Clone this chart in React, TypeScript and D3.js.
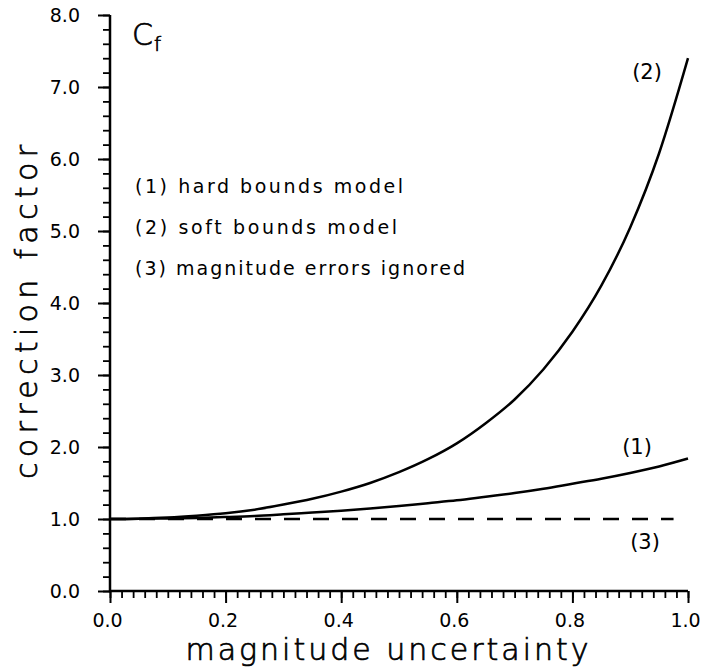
import React, { useEffect, useRef } from 'react';
import * as d3 from 'd3';

const uncertainty = [0, 0.05, 0.1, 0.15, 0.2, 0.25, 0.3, 0.35, 0.4, 0.45, 0.5, 0.55, 0.6, 0.65, 0.7, 0.75, 0.8, 0.85, 0.9, 0.95, 1.0];
// (1) hard bounds model
const hardBounds = [1.0, 1.002, 1.007, 1.015, 1.027, 1.042, 1.065, 1.09, 1.115, 1.145, 1.18, 1.22, 1.26, 1.31, 1.36, 1.42, 1.49, 1.56, 1.64, 1.73, 1.84];
// (2) soft bounds model
const softBounds = [1.0, 1.005, 1.02, 1.046, 1.08, 1.13, 1.2, 1.28, 1.38, 1.5, 1.65, 1.83, 2.05, 2.33, 2.66, 3.08, 3.6, 4.24, 5.05, 6.08, 7.4];
// (3) magnitude errors ignored
const ignoredX = [0, 0.975];
const ignoredY = [1.0, 1.0];

const xTicks = [0, 0.2, 0.4, 0.6, 0.8, 1.0];
const yTicks = [0, 1, 2, 3, 4, 5, 6, 7, 8];
const legendLines = ['(1) hard bounds model', '(2) soft bounds model', '(3) magnitude errors ignored'];

const FONT = '"DejaVu Sans", sans-serif';

export default function App() {
  const ref = useRef<SVGSVGElement>(null);

  useEffect(() => {
    const svg = d3.select(ref.current);
    svg.selectAll('*').remove();

    const x = d3.scaleLinear().domain([0, 1]).range([110, 688]);
    const y = d3.scaleLinear().domain([0, 8]).range([591, 15]);

    const xMinor = d3.range(0, 51).map(i => i / 50);
    const yMinor = d3.range(0, 41).map(i => i / 5);

    // minor ticks
    svg.append('g')
      .attr('transform', `translate(0,${y(0)})`)
      .call(d3.axisBottom(x).tickValues(xMinor).tickSize(7).tickFormat(() => ''))
      .call(g => g.select('.domain').remove())
      .selectAll('line').attr('stroke', '#000').attr('stroke-width', 1.8);
    svg.append('g')
      .attr('transform', `translate(${x(0)},0)`)
      .call(d3.axisLeft(y).tickValues(yMinor).tickSize(7).tickFormat(() => ''))
      .call(g => g.select('.domain').remove())
      .selectAll('line').attr('stroke', '#000').attr('stroke-width', 1.8);

    // major ticks + labels
    const gx = svg.append('g')
      .attr('transform', `translate(0,${y(0)})`)
      .call(d3.axisBottom(x).tickValues(xTicks).tickSize(12).tickPadding(11).tickFormat(d3.format('.1f')));
    gx.select('.domain').remove();
    gx.selectAll('line').attr('stroke', '#000').attr('stroke-width', 2);
    gx.selectAll('text').attr('font-family', FONT).attr('font-size', 19).attr('fill', '#000').attr('dx', -3);

    const gy = svg.append('g')
      .attr('transform', `translate(${x(0)},0)`)
      .call(d3.axisLeft(y).tickValues(yTicks).tickSize(12).tickPadding(18).tickFormat(d3.format('.1f')));
    gy.select('.domain').remove();
    gy.selectAll('line').attr('stroke', '#000').attr('stroke-width', 2);
    gy.selectAll('text').attr('font-family', FONT).attr('font-size', 19).attr('fill', '#000');

    // axis lines
    svg.append('path')
      .attr('d', `M${x(0)},${y(8)}V${y(0)}H${x(1)}`)
      .attr('fill', 'none').attr('stroke', '#000').attr('stroke-width', 2.5);

    // curves
    const line = d3.line<[number, number]>().x(d => x(d[0])).y(d => y(d[1])).curve(d3.curveMonotoneX);
    svg.append('path')
      .attr('d', line(uncertainty.map((u, i) => [u, hardBounds[i]])))
      .attr('fill', 'none').attr('stroke', '#000').attr('stroke-width', 2.5);
    svg.append('path')
      .attr('d', line(uncertainty.map((u, i) => [u, softBounds[i]])))
      .attr('fill', 'none').attr('stroke', '#000').attr('stroke-width', 2.5);
    svg.append('path')
      .attr('d', d3.line<[number, number]>().x(d => x(d[0])).y(d => y(d[1]))(ignoredX.map((u, i) => [u, ignoredY[i]])))
      .attr('fill', 'none').attr('stroke', '#000').attr('stroke-width', 2.5)
      .attr('stroke-dasharray', '16,13');

    // curve labels
    const curveLabel = (t: string, cx: number, cy: number) =>
      svg.append('text').attr('x', cx).attr('y', cy).attr('text-anchor', 'middle')
        .attr('font-family', FONT).attr('font-size', 21).text(t);
    curveLabel('(2)', 647, 79);
    curveLabel('(1)', 637, 454);
    curveLabel('(3)', 645, 549);

    // legend
    const legendWidths = [268, 262, 330];
    legendLines.forEach((t, i) => {
      svg.append('text')
        .attr('x', 135).attr('y', 193 + i * 41)
        .attr('font-family', FONT).attr('font-size', 19)
        .attr('textLength', legendWidths[i]).attr('lengthAdjust', 'spacing')
        .text(t);
    });

    // C_f
    const cf = svg.append('text').attr('x', 132).attr('y', 45)
      .attr('font-family', FONT).attr('font-size', 30).attr('font-weight', 200)
      .attr('fill', '#000').attr('stroke', '#000').attr('stroke-width', 0.7);
    cf.append('tspan').text('C');
    cf.append('tspan').attr('font-size', 20).attr('dy', 6).attr('dx', 1).text('f');

    // axis titles
    svg.append('text')
      .attr('x', 387).attr('y', 660).attr('text-anchor', 'middle')
      .attr('font-family', FONT).attr('font-size', 30).attr('font-weight', 200)
      .attr('fill', '#000').attr('stroke', '#000').attr('stroke-width', 0.7)
      .attr('textLength', 403).attr('lengthAdjust', 'spacing')
      .text('magnitude uncertainty');
    svg.append('text')
      .attr('transform', 'translate(37,312) rotate(-90)')
      .attr('text-anchor', 'middle')
      .attr('font-family', FONT).attr('font-size', 30).attr('font-weight', 200)
      .attr('fill', '#000').attr('stroke', '#000').attr('stroke-width', 0.7)
      .attr('textLength', 334).attr('lengthAdjust', 'spacing')
      .text('correction factor');
  }, []);

  return (
    <svg ref={ref} width={701} height={667}
      style={{ position: 'absolute', left: 0, top: 0, background: '#fff' }} />
  );
}
